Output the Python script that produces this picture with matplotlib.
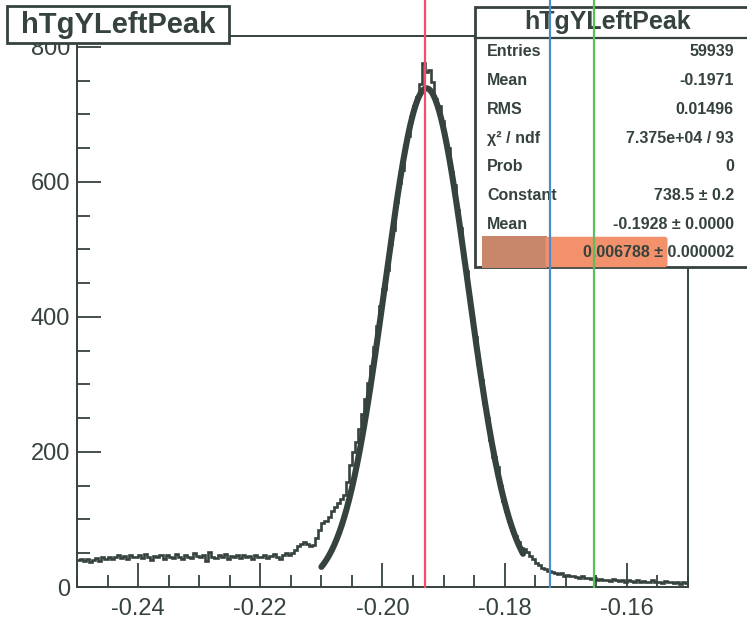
import numpy as np
import matplotlib
matplotlib.use('Agg')
import matplotlib.pyplot as plt
import matplotlib.patches as mpatches
import matplotlib.lines as mlines
import matplotlib.transforms as mtransforms

plt.rcParams['font.family'] = ['Liberation Sans', 'DejaVu Sans']

W, H = 747, 619
INK = '#35423d'

# histogram: 200 bins from -0.25 to -0.15
x_lo, x_hi, n_bins = -0.25, -0.15, 200
counts = [
    40, 42, 38, 41, 37, 40, 43, 39, 44, 42,
    45, 41, 44, 47, 43, 46, 42, 48, 45, 44,
    47, 43, 49, 45, 40, 46, 44, 48, 42, 47,
    45, 43, 49, 44, 41, 47, 45, 43, 50, 46,
    44, 48, 39, 52, 45, 43, 47, 44, 49, 42,
    46, 45, 48, 43, 47, 44, 46, 42, 48, 45,
    44, 47, 43, 46, 49, 45, 42, 48, 50, 47,
    50, 55, 60, 64, 67, 63, 60, 62, 72, 84,
    95, 98, 104, 112, 119, 124, 130, 136, 155, 180,
    200, 214, 234, 256, 278, 302, 328, 356, 386, 416,
    442, 470, 508, 528, 570, 598, 618, 655, 668, 696,
    712, 726, 745, 776, 762, 765, 748, 722, 712, 690,
    662, 650, 615, 596, 558, 532, 490, 468, 428, 396,
    370, 330, 306, 272, 250, 218, 192, 178, 150, 128,
    112, 98, 84, 76, 66, 58, 56, 52, 46, 41,
    36, 32, 28, 27, 24, 22, 21, 19, 20, 17,
    18, 16, 17, 15, 14, 16, 13, 14, 12, 13,
    11, 12, 10, 11, 9, 12, 10, 9, 11, 8,
    10, 9, 7, 10, 8, 9, 7, 8, 10, 7,
    8, 6, 9, 7, 8, 6, 7, 5, 7, 6,
]

# gaus fit parameters (from stats box)
fit_const, fit_mean, fit_sigma = 738.5, -0.1928, 0.006788
fit_range = (-0.2100, -0.1770)

# marker lines drawn on the printout
vlines = [(-0.1930, '#f0506a'), (-0.1726, '#4a8ccc'), (-0.1654, '#5cbf5c')]

stat_names = ['Entries', 'Mean', 'RMS', 'χ² / ndf', 'Prob', 'Constant', 'Mean', 'Sigma']
stat_values = ['59939', '-0.1971', '0.01496', '7.375e+04 / 93', '0',
               '738.5 ± 0.2', '-0.1928 ± 0.0000', '0.006788 ± 0.000002']

x_major = [-0.24, -0.22, -0.20, -0.18, -0.16]
y_major = [0, 200, 400, 600, 800]


def fx(px):
    return px / W


def fy(py):
    return 1 - py / H


fig = plt.figure(figsize=(W / 100, H / 100), dpi=100)
ax = fig.add_axes([fx(77), fy(587), fx(688) - fx(77), fy(36) - fy(587)])

edges = np.linspace(x_lo, x_hi, n_bins + 1)
ax.stairs(counts, edges, color=INK, linewidth=1.9, baseline=None)

xf = np.linspace(fit_range[0], fit_range[1], 400)
yf = fit_const * np.exp(-0.5 * ((xf - fit_mean) / fit_sigma) ** 2)
ax.plot(xf, yf, color=INK, linewidth=4.4, solid_capstyle='round')

ax.set_xlim(x_lo, x_hi)
ax.set_ylim(0, 816)
ax.set_xticks(x_major)
ax.set_xticklabels(['%.2f' % v for v in x_major])
ax.set_xticks(np.arange(-0.25, -0.1499, 0.005), minor=True)
ax.set_yticks(y_major)
ax.set_yticks(np.arange(0, 801, 50), minor=True)
ax.tick_params(which='both', direction='in', colors=INK, width=1.3,
               labelsize=17, top=False, right=False)
ax.tick_params(which='major', length=17)
ax.tick_params(which='minor', length=9)
ax.tick_params(axis='x', pad=8)
ax.tick_params(axis='y', pad=5)
for sp in ax.spines.values():
    sp.set_color(INK)
    sp.set_linewidth(1.4)

# vertical marker lines, running past the frame up to the page top
tr = mtransforms.blended_transform_factory(ax.transData, fig.transFigure)
for xv, col in vlines:
    fig.add_artist(mlines.Line2D([xv, xv], [fy(587), 1.0], transform=tr,
                                 color=col, linewidth=1.6, zorder=10))

# title box
fig.add_artist(mpatches.Rectangle((fx(7), fy(43)), fx(229) - fx(7), fy(6) - fy(43),
                                  transform=fig.transFigure, facecolor='white',
                                  edgecolor=INK, linewidth=2, zorder=5))
fig.text(fx(118), fy(25), 'hTgYLeftPeak', ha='center', va='center',
         fontsize=21, fontweight='bold', color=INK, zorder=6)

# stats box
fig.add_artist(mpatches.Rectangle((fx(475), fy(267)), fx(770) - fx(475), fy(7) - fy(267),
                                  transform=fig.transFigure, facecolor='white',
                                  edgecolor=INK, linewidth=2, zorder=5))
fig.add_artist(mlines.Line2D([fx(475), 1.0], [fy(38), fy(38)],
                             transform=fig.transFigure, color=INK, linewidth=1.6, zorder=6))
fig.text(fx(608), fy(22), 'hTgYLeftPeak', ha='center', va='center',
         fontsize=18, fontweight='bold', color=INK, zorder=6)

# marker highlight on the sigma row
fig.add_artist(mpatches.Rectangle((fx(482), fy(268)), fx(547) - fx(482), fy(236) - fy(268),
                                  transform=fig.transFigure, facecolor='#c8876a',
                                  edgecolor='none', zorder=6))
fig.add_artist(mpatches.FancyBboxPatch((fx(547), fy(266)), fx(666) - fx(547), fy(238) - fy(266),
                                       boxstyle='round,pad=0.002,rounding_size=0.004',
                                       transform=fig.transFigure, facecolor='#f2916c',
                                       edgecolor='none', zorder=6))

for i, (name, val) in enumerate(zip(stat_names, stat_values)):
    yy = 52 + i * 28.7
    if name != 'Sigma':
        fig.text(fx(487), fy(yy), name, ha='left', va='center', fontsize=11.5,
                 fontweight='bold', color=INK, zorder=7)
    fig.text(fx(734), fy(yy), val, ha='right', va='center', fontsize=11.5,
             fontweight='bold', color=INK, zorder=7)

fig.savefig('out.png', dpi=100)
